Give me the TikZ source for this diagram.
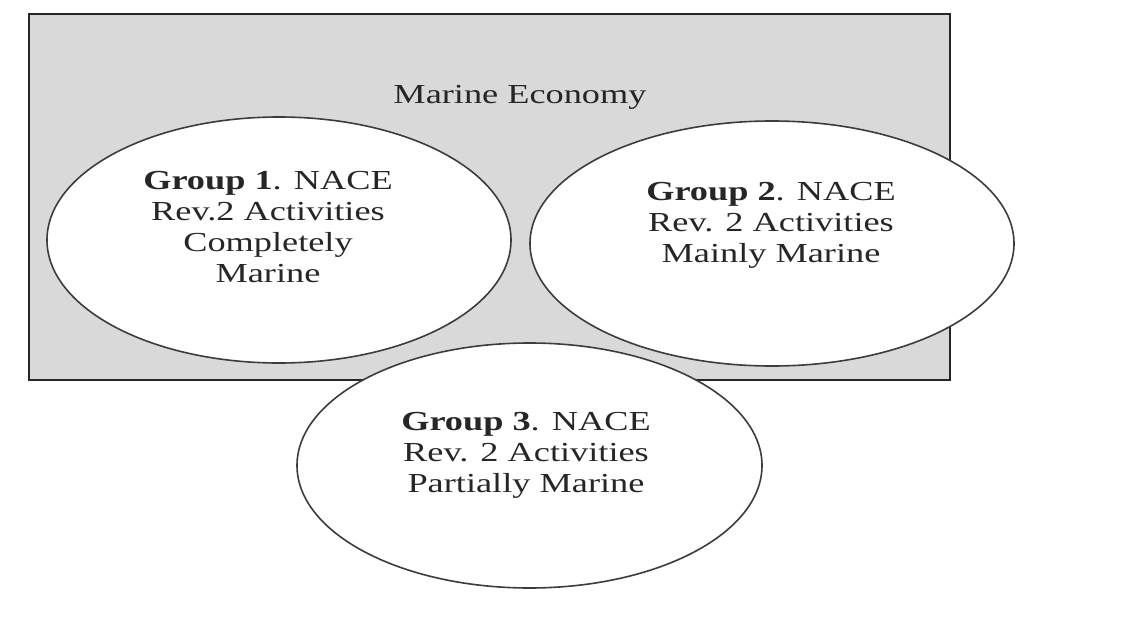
\documentclass[tikz,border=0pt]{standalone}
\usepackage{fontspec}
\setmainfont{Liberation Serif}
\usetikzlibrary{shapes.geometric}
\definecolor{panelgray}{HTML}{D9D9D9}
\definecolor{framecol}{HTML}{262626}
\definecolor{rimcol}{HTML}{3C3C3C}
\definecolor{inkcol}{HTML}{262626}
\begin{document}
\begin{tikzpicture}[x=1pt,y=-1pt,
  panel/.style={rectangle, draw=framecol, fill=panelgray, line width=2.6pt,
    minimum width=921pt, minimum height=366pt, inner sep=0pt},
  group/.style={ellipse, draw=rimcol, fill=white, line width=1.6pt, inner sep=0pt},
  caption/.style={align=center, text=inkcol, xscale=1.32, inner sep=0pt,
    font=\fontsize{27.5}{31}\selectfont}]
  % canvas
  \fill[white] (0,0) rectangle (1144,634);
  \useasboundingbox (0,0) rectangle (1144,634);

  % marine economy panel
  \node[panel] (economy) at (489.5,197) {};
  \node[caption] (economyText) at (520,97) {Marine Economy};

  % the three activity groups
  \node[group, minimum width=464pt, minimum height=246pt] (g1) at (279,240) {};
  \node[group, minimum width=484pt, minimum height=245pt] (g2) at (772,243.5) {};
  \node[group, minimum width=465pt, minimum height=245pt] (g3) at (529.5,465.5) {};

  \node[caption] (g1text) at (268,227) {\textbf{Group 1}. NACE\\Rev.2 Activities\\Completely\\Marine};
  \node[caption] (g2text) at (771,225) {\textbf{Group 2}. NACE\\Rev. 2 Activities\\Mainly Marine};
  \node[caption] (g3text) at (526,455) {\textbf{Group 3}. NACE\\Rev. 2 Activities\\Partially Marine};
\end{tikzpicture}
\end{document}
